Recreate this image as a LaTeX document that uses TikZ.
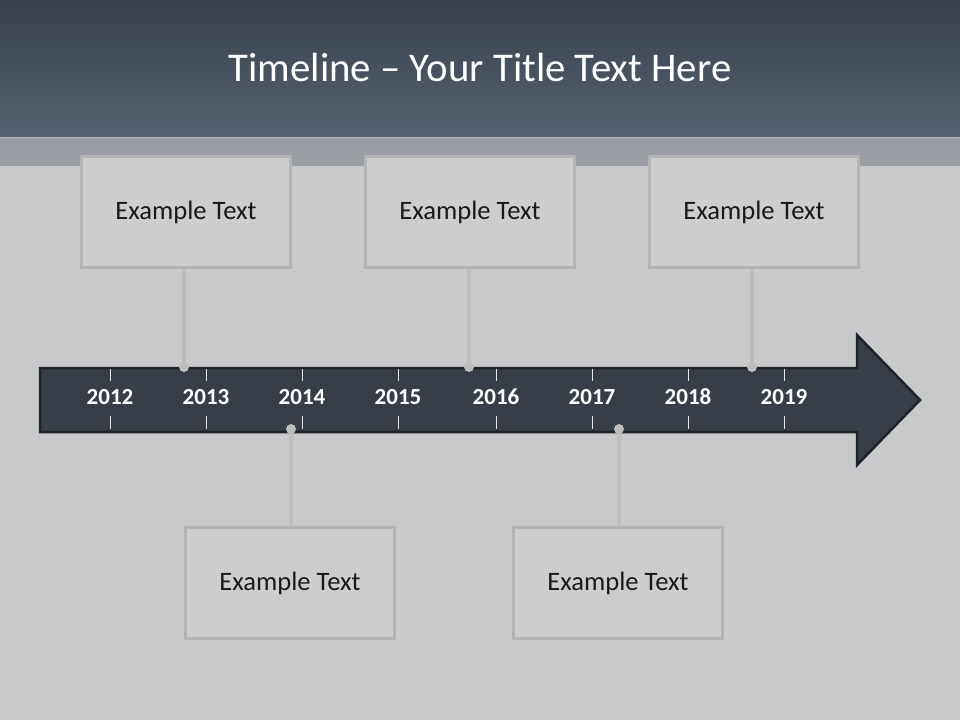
\documentclass[tikz,border=0pt]{standalone}
\usepackage{fontspec}
\setmainfont{Carlito}
\usetikzlibrary{positioning,calc}
\definecolor{hdtop}{HTML}{38414C}
\definecolor{hdbot}{HTML}{56626F}
\definecolor{band}{HTML}{9B9FA5}
\definecolor{bg}{HTML}{C8C9CB}
\definecolor{arrowfill}{HTML}{373E48}
\definecolor{arrowedge}{HTML}{1F2329}
\definecolor{boxfill}{HTML}{CDCDCD}
\definecolor{boxedge}{HTML}{B3B3B3}
\definecolor{conn}{HTML}{BDBDBD}
\tikzset{
  textbox/.style={draw=boxedge, line width=3pt, fill=boxfill, minimum width=209pt, minimum height=111pt, inner sep=0pt, font=\fontsize{26.6}{30}\selectfont, text=black!90},
  yearlbl/.style={font=\bfseries\fontsize{23}{26}\selectfont, text=white, inner sep=0pt},
  pin/.style={circle, fill=conn, minimum size=10pt, inner sep=0pt},
  connector/.style={draw=conn, line width=4pt},
  tick/.style={draw=white!90!black, line width=1pt}
}
\begin{document}
\begin{tikzpicture}[x=1pt,y=-1pt]
\useasboundingbox (0,0) rectangle (960,720);
% background
\fill[bg] (0,0) rectangle (960,720);
\fill[band] (0,137) rectangle (960,166);
\shade[top color=hdtop, bottom color=hdbot] (0,0) rectangle (960,137);
\draw[white!25!band, line width=1pt] (0,137.5) -- (960,137.5);
\node[font=\fontsize{40.8}{48}\selectfont, text=white] (title) at (480,67) {Timeline – Your Title Text Here};
% arrow
\draw[fill=arrowfill, draw=arrowedge, line width=2.5pt, line join=miter]
  (40,368) -- (857,368) -- (857,335) -- (920,400) -- (857,465) -- (857,432) -- (40,432) -- cycle;
% years
\foreach \x/\y in {110/2012,206/2013,302/2014,398/2015,496/2016,592/2017,688/2018,784/2019}{
  \node[yearlbl] (y\y) at (\x,397) {\y};
  \draw[tick] (\x,369) -- (\x,381);
  \draw[tick] (\x,416) -- (\x,429);
}
% boxes
\node[textbox] (tb1) at (186,212) {\raisebox{-2pt}{Example Text}};
\node[textbox] (tb2) at (470,212) {\raisebox{-2pt}{Example Text}};
\node[textbox] (tb3) at (754,212) {\raisebox{-2pt}{Example Text}};
\node[textbox] (bb1) at (290,583) {\raisebox{-2pt}{Example Text}};
\node[textbox] (bb2) at (618,583) {\raisebox{-2pt}{Example Text}};
% pins
\node[pin] (p1) at (184,367) {};
\node[pin] (p2) at (469,367) {};
\node[pin] (p3) at (752,367) {};
\node[pin] (p4) at (291,429) {};
\node[pin] (p5) at (619,429) {};
\draw[connector] (p1.center) -- (p1 |- tb1.south);
\draw[connector] (p2.center) -- (p2 |- tb2.south);
\draw[connector] (p3.center) -- (p3 |- tb3.south);
\draw[connector] (p4.center) -- (p4 |- bb1.north);
\draw[connector] (p5.center) -- (p5 |- bb2.north);
\end{tikzpicture}
\end{document}
